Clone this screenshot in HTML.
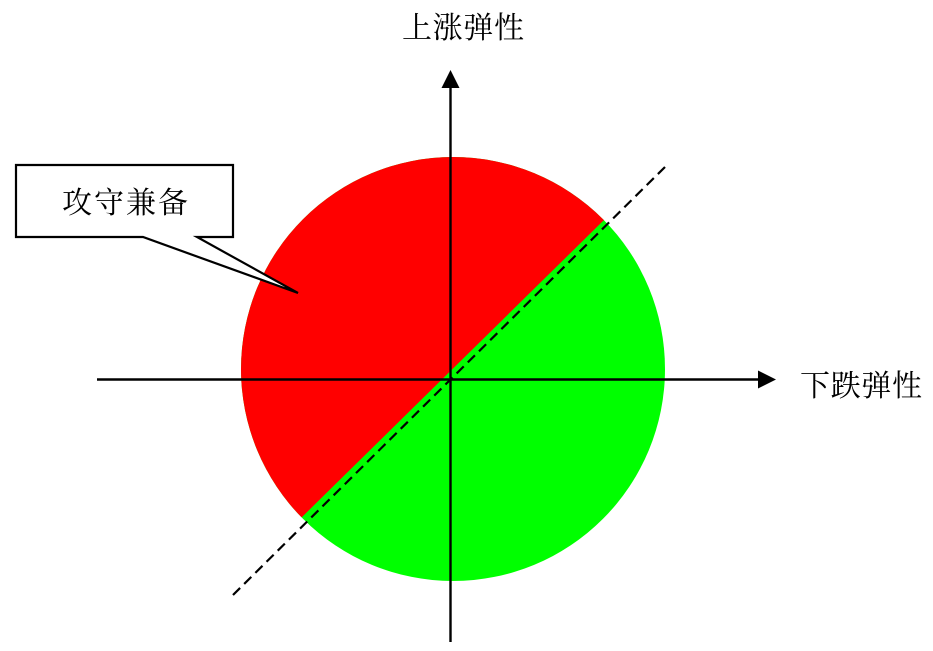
<!DOCTYPE html>
<html lang="zh">
<head>
<meta charset="utf-8">
<style>
html,body{margin:0;padding:0;background:#fff}
svg{display:block}
text{font-family:"Liberation Serif","Noto Serif CJK SC",serif;font-size:30px;fill:#000;font-weight:400}
</style>
</head>
<body>
<svg width="933" height="651" viewBox="0 0 933 651" xmlns="http://www.w3.org/2000/svg">
  <defs>
    <clipPath id="upper"><polygon points="103,712.7 802,25.3 802,-100 -100,-100 -100,712.7"/></clipPath>
  </defs>
  <rect width="933" height="651" fill="#fff"/>
  <circle cx="453" cy="369" r="212" fill="#00ff00"/>
  <circle cx="453" cy="369" r="212" fill="#ff0000" clip-path="url(#upper)"/>
  <line x1="233" y1="595" x2="665" y2="167" stroke="#000" stroke-width="2.2" stroke-dasharray="10 5.74"/>
  <line x1="450.5" y1="86" x2="450.5" y2="642" stroke="#000" stroke-width="2.4"/>
  <polygon points="450.5,70 441.5,88 459.5,88" fill="#000"/>
  <line x1="97" y1="379.5" x2="760" y2="379.5" stroke="#000" stroke-width="2.4"/>
  <polygon points="776,379.5 758,370.5 758,388.5" fill="#000"/>
  <path d="M16 165 H233 V237 H197 L298 293 L143 237 H16 Z" fill="#fff" stroke="#000" stroke-width="2.2" stroke-linejoin="miter"/>
  <text x="62" y="213" textLength="126" lengthAdjust="spacing">攻守兼备</text>
  <text x="402" y="38" textLength="122" lengthAdjust="spacing">上涨弹性</text>
  <text x="800" y="396" textLength="122" lengthAdjust="spacing">下跌弹性</text>
</svg>
</body>
</html>
